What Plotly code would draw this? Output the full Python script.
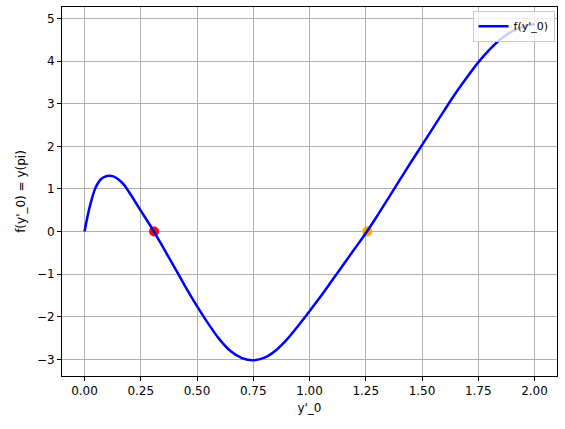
import plotly.graph_objects as go

# curve f(y'_0) = y(pi)
s_vals = [0.0, 0.025, 0.05, 0.075, 0.10, 0.125, 0.15, 0.175, 0.20, 0.25, 0.30, 0.35, 0.40,
          0.45, 0.50, 0.55, 0.60, 0.65, 0.70, 0.75, 0.80, 0.85, 0.90, 0.95, 1.00,
          1.05, 1.10, 1.15, 1.20, 1.25, 1.30, 1.35, 1.40, 1.45, 1.50, 1.55, 1.60,
          1.65, 1.70, 1.75, 1.80, 1.85, 1.90, 1.95, 2.00]
f_vals = [0.0, 0.62, 1.04, 1.24, 1.305, 1.30, 1.23, 1.10, 0.91, 0.49, 0.075, -0.38, -0.84,
          -1.31, -1.75, -2.16, -2.53, -2.81, -2.97, -3.02, -2.96, -2.79, -2.53, -2.21, -1.87,
          -1.52, -1.15, -0.78, -0.41, -0.04, 0.36, 0.78, 1.20, 1.62, 2.03, 2.44, 2.85,
          3.25, 3.62, 3.97, 4.27, 4.52, 4.70, 4.81, 4.87]

root1_x = [0.309]
root1_y = [0]
root2_x = [1.257]
root2_y = [0]

x_ticks = [0, 0.25, 0.5, 0.75, 1.0, 1.25, 1.5, 1.75, 2.0]
x_tick_labels = ["0.00", "0.25", "0.50", "0.75", "1.00", "1.25", "1.50", "1.75", "2.00"]
y_ticks = [-3, -2, -1, 0, 1, 2, 3, 4, 5]
y_tick_labels = ["\u22123", "\u22122", "\u22121", "0", "1", "2", "3", "4", "5"]

fig = go.Figure()
fig.add_trace(go.Scatter(x=root1_x, y=root1_y, mode="markers",
                         marker=dict(color="red", size=10), showlegend=False))
fig.add_trace(go.Scatter(x=root2_x, y=root2_y, mode="markers",
                         marker=dict(color="orange", size=10), showlegend=False))
fig.add_trace(go.Scatter(x=s_vals, y=f_vals, mode="lines", name="f(y'_0)",
                         line=dict(color="blue", width=2.5, shape="spline", smoothing=1.0)))

axis_common = dict(showline=True, linecolor="black", linewidth=1, mirror=True,
                   ticks="outside", ticklen=4, tickcolor="black",
                   showgrid=True, gridcolor="#b0b0b0", gridwidth=1, zeroline=False,
                   automargin=False,
                   tickfont=dict(size=12, color="black"))

fig.update_xaxes(range=[-0.1, 2.1], tickvals=x_ticks, ticktext=x_tick_labels,
                 title=dict(text="y'_0", font=dict(size=12, color="black"), standoff=6),
                 **axis_common)
fig.update_yaxes(range=[-3.39, 5.27], tickvals=y_ticks, ticktext=y_tick_labels,
                 title=dict(text="f(y'_0) = y(pi)", font=dict(size=12, color="black"), standoff=8),
                 **axis_common)

fig.update_layout(
    width=565, height=429,
    margin=dict(l=62, r=8, t=7, b=53),
    paper_bgcolor="white", plot_bgcolor="white",
    font=dict(family="DejaVu Sans", size=12, color="black"),
    legend=dict(x=0.995, y=0.99, xanchor="right", yanchor="top",
                bgcolor="rgba(255,255,255,0.8)", bordercolor="#cccccc", borderwidth=1,
                font=dict(size=11)),
)

fig.write_html("out.html", config={"displayModeBar": False},
               post_script="document.body.style.margin='0';document.body.style.overflow='hidden';")
